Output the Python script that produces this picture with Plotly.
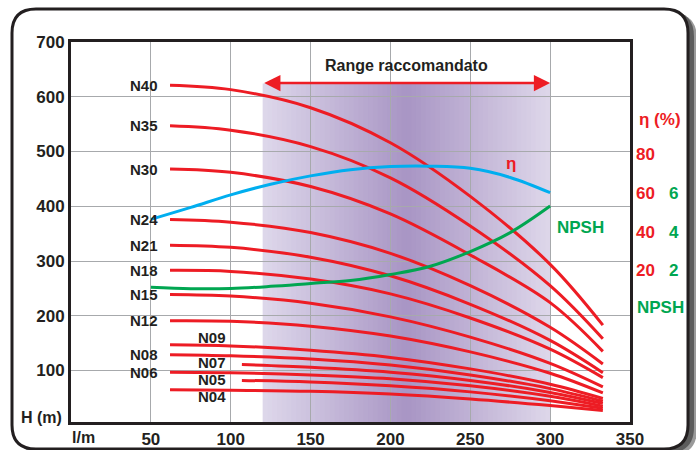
import plotly.graph_objects as go

# ---------------- data ----------------
flow_main = [62, 100, 150, 200, 250, 300, 333]
flow_short = [107, 150, 200, 250, 300, 333]

head_curves = {
    "N40": [621, 613, 580, 516, 418, 294, 183],
    "N35": [547, 539, 509, 452, 364, 255, 158],
    "N30": [468, 462, 436, 386, 311, 224, 135],
    "N24": [376, 371, 352, 314, 255, 179, 112],
    "N21": [329, 325, 307, 273, 221, 155, 96],
    "N18": [283, 281, 267, 240, 196, 139, 87],
    "N15": [239, 236, 223, 198, 161, 113, 70],
    "N12": [191, 190, 181, 163, 134, 95, 59],
    "N09": [147, 145, 137, 124, 103, 75, 49],
    "N08": [129, 127, 121, 110, 92, 67, 44],
    "N07": [111, 106, 97, 82, 60, 40],
    "N06": [97, 96, 92, 85, 72, 53, 35],
    "N05": [82, 79, 72, 61, 45, 31],
    "N04": [65, 64, 62, 57, 48, 36, 27],
}
short_models = ["N07", "N05"]

flow_eff = [50, 75, 100, 125, 150, 175, 200, 225, 250, 275, 300]
efficiency = [46.3, 52.5, 59.0, 64.5, 68.8, 72.0, 73.6, 73.8, 72.7, 68.0, 60.1]

flow_npsh = [50, 75, 100, 125, 150, 175, 200, 225, 250, 275, 300]
npsh = [1.13, 1.05, 1.06, 1.17, 1.32, 1.47, 1.78, 2.21, 2.97, 3.95, 5.32]

x_ticks = [50, 100, 150, 200, 250, 300, 350]
y_ticks = [100, 200, 300, 400, 500, 600, 700]
eta_ticks = [20, 40, 60, 80]
npsh_ticks = [2, 4, 6]

range_low, range_high = 120, 300
range_label = "Range raccomandato"

# ---------------- styles ----------------
RED = "#ed1c24"
BLUE = "#00aeef"
GREEN = "#00a651"
INK = "#231f20"
GRID = "#a7a9ac"
FONT = "Liberation Sans, Arial, sans-serif"

fig = go.Figure()

for name, vals in head_curves.items():
    xs = flow_short if name in short_models else flow_main
    fig.add_trace(go.Scatter(x=xs, y=vals, mode="lines", name=name,
                             line=dict(color=RED, width=3, shape="spline"),
                             showlegend=False, hoverinfo="skip"))

fig.add_trace(go.Scatter(x=flow_eff, y=efficiency, mode="lines", yaxis="y2",
                         line=dict(color=BLUE, width=3, shape="spline"),
                         showlegend=False, hoverinfo="skip"))
fig.add_trace(go.Scatter(x=flow_npsh, y=npsh, mode="lines", yaxis="y3",
                         line=dict(color=GREEN, width=3, shape="spline"),
                         showlegend=False, hoverinfo="skip"))

# ---------------- geometry helpers (paper coords) ----------------
L, R, T, B = 71, 66, 42, 28
W, H = 696, 450
pw, ph = W - L - R, H - T - B


def px2x(px):
    return (px - L) / pw


def py2y(py):
    return (H - B - py) / ph


def rounded(x0, y0, x1, y1, r):
    X0, X1 = px2x(x0), px2x(x1)
    Y0, Y1 = py2y(y0), py2y(y1)  # Y0 top, Y1 bottom
    rx, ry = r / pw, r / ph
    return (f"M {X0+rx},{Y0} L {X1-rx},{Y0} Q {X1},{Y0} {X1},{Y0-ry} "
            f"L {X1},{Y1+ry} Q {X1},{Y1} {X1-rx},{Y1} L {X0+rx},{Y1} "
            f"Q {X0},{Y1} {X0},{Y1+ry} L {X0},{Y0-ry} Q {X0},{Y0} {X0+rx},{Y0} Z")


shapes = []
# shadow + frame
shapes.append(dict(type="path", xref="paper", yref="paper", layer="below",
                   path=rounded(18, 13, 697, 455, 26), fillcolor="#9a9a9a",
                   line=dict(width=0)))
shapes.append(dict(type="path", xref="paper", yref="paper", layer="below",
                   path=rounded(16, 11, 694, 453, 26), fillcolor="#5c5c5c",
                   line=dict(width=0)))
shapes.append(dict(type="path", xref="paper", yref="paper", layer="below",
                   path=rounded(12, 9, 688, 449, 24), fillcolor="white",
                   line=dict(color=INK, width=3)))

# recommended-range gradient band
c_edge_l = (222, 216, 235)
c_mid = (168, 149, 196)
c_edge_r = (222, 215, 234)
mid_x = 210
n = 60
step = (range_high - range_low) / n
for i in range(n):
    xa = range_low + i * step
    xb = xa + step
    xc = (xa + xb) / 2
    if xc <= mid_x:
        t = (xc - range_low) / (mid_x - range_low)
        c0, c1 = c_edge_l, c_mid
    else:
        t = (range_high - xc) / (range_high - mid_x)
        c0, c1 = c_edge_r, c_mid
    col = tuple(round(c0[k] + (c1[k] - c0[k]) * t) for k in range(3))
    x1 = min(xb + step * 0.8, range_high)
    shapes.append(dict(type="rect", xref="x", yref="y", layer="below",
                       x0=xa, x1=x1, y0=0, y1=624,
                       fillcolor=f"rgb{col}", line=dict(width=0)))

annotations = []
bold = dict(family=FONT, weight="bold")

annotations.append(dict(x=(range_low + range_high) / 2, y=657, xref="x", yref="y",
                        text=range_label, showarrow=False,
                        xanchor="center", yanchor="middle",
                        font=dict(size=16, color=INK, **bold)))
annotations.append(dict(x=range_high, y=625, ax=range_low, ay=625,
                        xref="x", yref="y", axref="x", ayref="y", text="",
                        showarrow=True, arrowhead=2, arrowside="end+start",
                        arrowsize=1.3, arrowwidth=2.5, arrowcolor=RED,
                        standoff=0, startstandoff=0))

# curve labels
for name, vals in head_curves.items():
    if name in ("N09", "N07", "N05", "N04"):
        continue
    annotations.append(dict(x=56, y=vals[0], xref="x", yref="y", text=name,
                            showarrow=False, xanchor="right", yanchor="middle",
                            font=dict(size=15, color=INK, **bold)))
inner_labels = {"N09": 161, "N07": 114, "N05": 83, "N04": 52}
for name, yv in inner_labels.items():
    annotations.append(dict(x=98.5, y=yv, xref="x", yref="y", text=name,
                            showarrow=False, xanchor="right", yanchor="middle",
                            font=dict(size=15, color=INK, **bold)))

annotations.append(dict(x=275.5, y=479, xref="x", yref="y", text="η",
                        showarrow=False, xanchor="center", yanchor="middle",
                        font=dict(size=17, color=RED, **bold)))
annotations.append(dict(x=319, y=362, xref="x", yref="y", text="NPSH",
                        showarrow=False, xanchor="center", yanchor="middle",
                        font=dict(size=17, color=GREEN, **bold)))
annotations.append(dict(x=px2x(660), y=py2y(120), xref="paper", yref="paper",
                        text="η (%)", showarrow=False,
                        xanchor="center", yanchor="middle",
                        font=dict(size=17, color=RED, **bold)))
annotations.append(dict(x=px2x(660), y=py2y(307), xref="paper", yref="paper",
                        text="NPSH", showarrow=False,
                        xanchor="center", yanchor="middle",
                        font=dict(size=17, color=GREEN, **bold)))
annotations.append(dict(x=px2x(64), y=py2y(417), xref="paper", yref="paper",
                        text="H (m)", showarrow=False,
                        xanchor="right", yanchor="middle",
                        font=dict(size=16, color=INK, **bold)))
annotations.append(dict(x=px2x(70), y=py2y(437), xref="paper", yref="paper",
                        text="l/m", showarrow=False,
                        xanchor="left", yanchor="middle",
                        font=dict(size=16, color=INK, **bold)))

eta_lo, eta_hi = -58.4, 138.0

fig.update_layout(
    width=W, height=H,
    margin=dict(l=L, r=R, t=T, b=B, autoexpand=False),
    paper_bgcolor="white", plot_bgcolor="white",
    font=dict(family=FONT, color=INK),
    showlegend=False,
    hovermode=False,
    xaxis=dict(range=[0, 350], tickvals=x_ticks, ticktext=[str(v) for v in x_ticks],
               showgrid=True, gridcolor=GRID, gridwidth=1.2, zeroline=False,
               showline=True, linecolor=INK, linewidth=3, mirror=True,
               ticks="", tickfont=dict(size=17, color=INK, **bold),
               automargin=False),
    yaxis=dict(range=[6, 700], tickvals=y_ticks, ticktext=[str(v) for v in y_ticks],
               showgrid=True, gridcolor=GRID, gridwidth=1.2, zeroline=False,
               showline=True, linecolor=INK, linewidth=3, mirror=True,
               ticks="", tickfont=dict(size=17, color=INK, **bold),
               automargin=False),
    yaxis2=dict(overlaying="y", side="right", range=[eta_lo, eta_hi],
                tickvals=eta_ticks, showgrid=False, zeroline=False, showline=False,
                ticks="", tickfont=dict(size=17, color=RED, **bold),
                ticklabelstandoff=5, automargin=False),
    yaxis3=dict(overlaying="y", side="right", anchor="free", position=1,
                autoshift=False, shift=38,
                range=[eta_lo / 10, eta_hi / 10],
                tickvals=npsh_ticks, showgrid=False, zeroline=False, showline=False,
                ticks="", tickfont=dict(size=17, color=GREEN, **bold),
                automargin=False),
    shapes=shapes,
    annotations=annotations,
)

fig.write_html("out.html",
               config={"displayModeBar": False, "displaylogo": False},
               post_script="document.body.style.margin='0';document.body.style.overflow='hidden';")
